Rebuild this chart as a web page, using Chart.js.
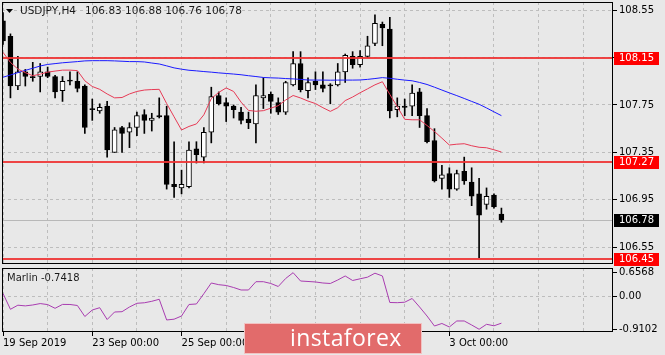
<!DOCTYPE html>
<html>
<head>
<meta charset="utf-8">
<script src="https://cdn.jsdelivr.net/npm/chart.js@4.4.1/dist/chart.umd.min.js"></script>
<style>
html,body{margin:0;padding:0;background:#e8e8e8;}
#wrap{position:relative;width:665px;height:355px;overflow:hidden;background:#e8e8e8;}
#main{position:absolute;left:0;top:0;}
#osc{position:absolute;left:0;top:266px;}
#wm{position:absolute;left:244px;top:323px;width:178px;height:31px;background:#e26b6b;border:1px solid #f2c2c2;box-sizing:border-box;}
#wm .txt{position:absolute;left:45px;top:0px;color:#fff;font-family:'Open Sans',sans-serif;font-size:23px;line-height:27px;letter-spacing:0.4px;}
</style>
</head>
<body>
<div id="wrap">
<canvas id="main" width="665" height="266"></canvas>
<canvas id="osc" width="665" height="89"></canvas>
<div id="wm"><span class="txt">instaforex</span></div>
</div>
<script>
// ---- data ----
const symbol = 'USDJPY,H4';
const titleValues = ['106.83', '106.88', '106.76', '106.78'];

const openP = [
  108.46,108.33,107.91,108.03,107.99,107.99,108.03,107.99,107.87,107.96,
  107.95,107.91,107.72,107.70,107.74,107.35,107.56,107.52,107.56,107.67,
  107.62,107.66,107.66,107.08,107.05,107.06,107.38,107.31,107.52,107.83,
  107.77,107.74,107.69,107.63,107.59,107.81,107.84,107.77,107.69,107.92,
  108.10,107.87,107.95,107.92,107.92,107.92,108.03,108.16,108.09,108.16,
  108.27,108.43,108.39,107.71,107.74,107.74,107.86,107.66,107.45,107.13,
  107.17,107.04,107.19,107.10,107.00,106.91,106.99,106.83];
const highP = [
  108.53,108.35,108.16,108.05,108.11,108.10,108.07,108.00,107.99,108.03,
  108.03,107.92,107.80,107.76,107.78,107.56,107.57,107.60,107.69,107.71,
  107.68,107.81,107.74,107.44,107.20,107.44,107.44,107.56,107.90,107.86,
  107.81,107.75,107.73,107.69,107.92,107.98,107.86,107.81,107.95,108.20,
  108.20,107.98,108.03,108.03,107.93,108.10,108.18,108.20,108.21,108.33,
  108.51,108.45,108.49,107.81,107.80,107.92,107.89,107.72,107.55,107.24,
  107.22,107.20,107.31,107.22,107.13,107.05,107.00,106.88];
const lowP = [
  108.26,107.81,107.88,107.91,107.95,107.86,107.98,107.81,107.78,107.92,
  107.86,107.51,107.62,107.68,107.31,107.35,107.35,107.39,107.49,107.51,
  107.53,107.64,107.04,106.97,107.00,107.05,107.26,107.26,107.43,107.75,
  107.61,107.64,107.59,107.55,107.43,107.72,107.68,107.67,107.67,107.91,
  107.86,107.81,107.88,107.86,107.76,107.91,107.94,108.06,108.07,108.15,
  108.25,108.25,107.64,107.65,107.66,107.66,107.56,107.43,107.10,107.04,
  106.97,107.03,107.08,106.90,106.46,106.87,106.88,106.76];
const closeP = [
  108.29,107.91,108.03,107.99,107.98,108.03,107.99,107.86,107.95,107.95,
  107.89,107.56,107.71,107.73,107.37,107.54,107.51,107.56,107.66,107.62,
  107.64,107.65,107.08,107.06,107.08,107.37,107.33,107.52,107.82,107.76,
  107.74,107.71,107.62,107.60,107.83,107.83,107.78,107.69,107.94,108.10,
  107.88,107.94,107.92,107.89,107.91,108.03,108.17,108.09,108.16,108.25,
  108.44,108.40,107.70,107.74,107.73,107.85,107.66,107.44,107.11,107.16,
  107.04,107.17,107.11,106.98,106.82,106.98,106.89,106.78];

const maSlow = [
  107.984,108.003,108.023,108.042,108.060,108.079,108.092,108.099,108.106,108.111,
  108.116,108.122,108.124,108.124,108.124,108.122,108.119,108.116,108.116,108.113,
  108.104,108.096,108.080,108.063,108.052,108.043,108.038,108.032,108.027,108.021,
  108.016,108.011,108.005,107.997,107.990,107.982,107.979,107.977,107.973,107.970,
  107.966,107.961,107.960,107.960,107.959,107.960,107.960,107.960,107.961,107.966,
  107.973,107.981,107.975,107.967,107.960,107.954,107.940,107.923,107.900,107.876,
  107.852,107.829,107.805,107.780,107.756,107.725,107.692,107.660];
const maFast = [
  108.194,108.109,108.053,108.023,107.997,108.010,108.027,108.036,108.044,108.044,
  108.040,107.954,107.906,107.882,107.843,107.810,107.813,107.843,107.864,107.876,
  107.880,107.882,107.762,107.650,107.539,107.569,107.590,107.667,107.804,107.856,
  107.894,107.864,107.774,107.704,107.697,107.702,107.723,107.744,107.792,107.830,
  107.809,107.783,107.762,107.727,107.696,107.727,107.787,107.817,107.853,107.886,
  107.920,107.946,107.839,107.736,107.629,107.625,107.625,107.577,107.526,107.470,
  107.412,107.419,107.423,107.406,107.393,107.389,107.372,107.353];

const marlin = [
  0.080,-0.357,-0.244,-0.263,-0.238,-0.199,-0.227,-0.330,-0.222,-0.224,
  -0.252,-0.557,-0.377,-0.313,-0.640,-0.432,-0.424,-0.294,-0.191,-0.177,
  -0.136,-0.080,-0.653,-0.631,-0.543,-0.224,-0.210,0.075,0.371,0.324,
  0.302,0.246,0.177,0.177,0.407,0.407,0.357,0.274,0.496,0.6568,
  0.426,0.413,0.399,0.371,0.357,0.454,0.565,0.440,0.487,0.532,
  0.642,0.565,-0.169,-0.174,-0.161,-0.058,-0.294,-0.543,-0.820,-0.750,
  -0.847,-0.681,-0.681,-0.792,-0.9102,-0.773,-0.814,-0.7418];
const marlinLabel = 'Marlin -0.7418';

const levels = [108.15, 107.27, 106.45];
const lastPrice = 106.78;
const priceTicks = [108.55, 108.15, 107.75, 107.35, 106.95, 106.55];
const oscTicks = [0.6568, 0, -0.9102];
const oscTickLabels = ['0.6568', '0.00', '-0.9102'];
const dateTickIdx = [0, 12, 24, 36, 48, 60];
const dateTickText = ['19 Sep 2019', '23 Sep 00:00', '25 Sep 00:00', '27 Sep 00:00', '1 Oct 00:00', '3 Oct 00:00'];

// ---- view settings ----
const X_MIN = -0.135, X_MAX = 82;
const GRID = '#bdbdbd';
Chart.defaults.font.family = "'DejaVu Sans', sans-serif";
Chart.defaults.font.size = 10;
Chart.defaults.color = '#000';

const idx = openP.map((_, i) => i);
const bodyData = idx.map(i => ({x: i, y: [openP[i], closeP[i]]}));
const wickData = idx.map(i => ({x: i, y: [lowP[i], highP[i]]}));
const bodyColors = idx.map(i => closeP[i] > openP[i] ? '#ffffff' : '#000000');

function zeroPad(s) { s.paddingLeft = 0; s.paddingRight = 0; s.paddingTop = 0; s.paddingBottom = 0; }

const mainDeco = {
  id: 'mainDeco',
  beforeDatasetsDraw(chart) {
    const {ctx, chartArea: a, scales: {y}} = chart;
    const py = Math.round(y.getPixelForValue(lastPrice)) + 0.5;
    ctx.save();
    ctx.strokeStyle = '#b8b8b8'; ctx.lineWidth = 1;
    ctx.beginPath(); ctx.moveTo(a.left, py); ctx.lineTo(a.right, py); ctx.stroke();
    ctx.restore();
  },
  afterDatasetsDraw(chart) {
    const {ctx, chartArea: a, scales: {y}} = chart;
    ctx.save();
    ctx.strokeStyle = 'rgba(238,50,50,0.9)'; ctx.lineWidth = 2;
    levels.forEach(v => {
      const py = Math.round(y.getPixelForValue(v));
      ctx.beginPath(); ctx.moveTo(a.left, py); ctx.lineTo(a.right, py); ctx.stroke();
    });
    ctx.restore();
  },
  afterDraw(chart) {
    const {ctx, chartArea: a, scales: {y}} = chart;
    ctx.save();
    // frame
    ctx.strokeStyle = '#000'; ctx.lineWidth = 1;
    ctx.strokeRect(Math.round(a.left) + 0.5, Math.round(a.top) + 0.5, Math.round(a.right - a.left) - 1, Math.round(a.bottom - a.top) - 1);
    // price boxes
    ctx.font = "10px 'DejaVu Sans'"; ctx.textBaseline = 'middle'; ctx.textAlign = 'left';
    const box = (v, bg) => {
      const py = Math.round(y.getPixelForValue(v));
      ctx.fillStyle = bg; ctx.fillRect(a.right + 1, py - 6, 45, 13);
      ctx.fillStyle = '#fff'; ctx.fillText(v.toFixed(2), a.right + 6, py + 0.5);
    };
    levels.forEach(v => box(v, '#ff0000'));
    box(lastPrice, '#000000');
    // title
    ctx.fillStyle = '#000';
    ctx.beginPath(); ctx.moveTo(6, 9); ctx.lineTo(13, 9); ctx.lineTo(9.5, 13); ctx.closePath(); ctx.fill();
    ctx.fillStyle = '#1a1a1a';
    ctx.font = "10.5px 'DejaVu Sans'";
    ctx.fillText(symbol, 20, 11.5);
    ctx.fillText(titleValues.join(' '), 85, 11.5);
    ctx.restore();
  }
};

new Chart(document.getElementById('main'), {
  type: 'bar',
  data: {
    datasets: [
      {type: 'line', label: 'MA fast', data: idx.map(i => ({x: i, y: maFast[i]})), borderColor: '#e63a55', borderWidth: 1, pointRadius: 0, tension: 0, order: 0},
      {type: 'line', label: 'MA slow', data: idx.map(i => ({x: i, y: maSlow[i]})), borderColor: '#1a1aff', borderWidth: 1, pointRadius: 0, tension: 0, order: 0},
      {type: 'bar', label: 'body', data: bodyData, backgroundColor: bodyColors, borderColor: '#000', borderWidth: 1, borderSkipped: false, barThickness: 5, grouped: false, minBarLength: 1, order: 1},
      {type: 'bar', label: 'wick', data: wickData, backgroundColor: '#000', borderWidth: 0, barThickness: 1, grouped: false, order: 2}
    ]
  },
  options: {
    responsive: false, animation: false, events: [],
    layout: {padding: {left: 2, top: 2, right: 0, bottom: 2}},
    plugins: {legend: {display: false}, tooltip: {enabled: false}},
    scales: {
      x: {
        type: 'linear', min: X_MIN, max: X_MAX, offset: false,
        grid: {color: GRID, drawTicks: false, offset: false},
        border: {display: false, dash: [3, 3]},
        ticks: {display: false, stepSize: 6, includeBounds: false},
        afterFit(s) { s.height = 0; zeroPad(s); }
      },
      y: {
        position: 'right', min: 106.408, max: 108.619,
        grid: {color: GRID, tickColor: '#000', tickLength: 4},
        border: {display: false, dash: [3, 3]},
        ticks: {padding: 2, callback: v => Number(v).toFixed(2)},
        afterBuildTicks(s) { s.ticks = priceTicks.map(v => ({value: v})); },
        afterFit(s) { s.width = 52; zeroPad(s); }
      }
    }
  },
  plugins: [mainDeco]
});

const oscDeco = {
  id: 'oscDeco',
  afterDraw(chart) {
    const {ctx, chartArea: a} = chart;
    ctx.save();
    ctx.strokeStyle = '#000'; ctx.lineWidth = 1;
    ctx.strokeRect(Math.round(a.left) + 0.5, Math.round(a.top) + 0.5, Math.round(a.right - a.left) - 1, Math.round(a.bottom - a.top) - 1);
    ctx.font = "10px 'DejaVu Sans'"; ctx.textBaseline = 'middle'; ctx.fillStyle = '#1a1a1a';
    ctx.fillText(marlinLabel, a.left + 5, a.top + 10);
    ctx.restore();
  }
};

new Chart(document.getElementById('osc'), {
  type: 'line',
  data: {
    datasets: [
      {label: 'Marlin', data: idx.map(i => ({x: i, y: marlin[i]})), borderColor: '#a83cb0', borderWidth: 1, pointRadius: 0, tension: 0}
    ]
  },
  options: {
    responsive: false, animation: false, events: [],
    layout: {padding: {left: 2, top: 2, right: 0, bottom: 0}},
    plugins: {legend: {display: false}, tooltip: {enabled: false}},
    scales: {
      x: {
        type: 'linear', min: X_MIN, max: X_MAX, offset: false,
        grid: {color: GRID, tickLength: 4, offset: false,
               tickColor: c => dateTickIdx.includes(c.tick && c.tick.value) ? '#000' : 'rgba(0,0,0,0)'},
        border: {display: false, dash: [3, 3]},
        ticks: {stepSize: 6, includeBounds: false, autoSkip: false, maxRotation: 0, minRotation: 0, align: 'start', padding: 1,
                callback: v => { const k = dateTickIdx.indexOf(v); return k >= 0 ? dateTickText[k] : ''; }},
        afterFit(s) { s.height = 23; zeroPad(s); }
      },
      y: {
        position: 'right', min: -0.986, max: 0.786,
        grid: {color: c => (c.tick && c.tick.value === 0) ? GRID : 'rgba(0,0,0,0)', tickColor: '#000', tickLength: 4},
        border: {display: false, dash: [3, 3]},
        ticks: {padding: 2, callback: v => { const k = oscTicks.indexOf(v); return k >= 0 ? oscTickLabels[k] : ''; }},
        afterBuildTicks(s) { s.ticks = oscTicks.map(v => ({value: v})); },
        afterFit(s) { s.width = 52; zeroPad(s); }
      }
    }
  },
  plugins: [oscDeco]
});
</script>
</body>
</html>
